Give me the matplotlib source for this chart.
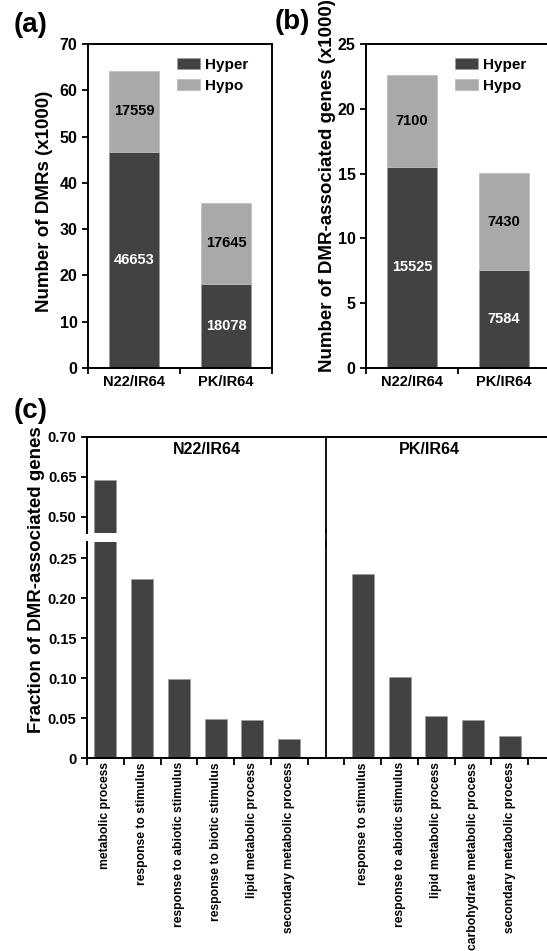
import numpy as np
from matplotlib import pyplot as plt
from matplotlib.lines import Line2D
from matplotlib.transforms import blended_transform_factory

plt.rcParams["font.family"] = ["Liberation Sans", "DejaVu Sans"]
plt.rcParams["font.weight"] = "bold"

# panels (a) and (b): counts in thousands
pairs = ["N22/IR64", "PK/IR64"]
dmr_hyper = [46.653, 18.078]
dmr_hypo = [17.559, 17.645]
gene_hyper = [15.525, 7.584]
gene_hypo = [7.100, 7.430]

# panel (c): GO fractions
n22_terms = ["metabolic process", "response to stimulus", "response to abiotic stimulus",
             "response to biotic stimulus", "lipid metabolic process",
             "secondary metabolic process"]
n22_frac = [0.640, 0.224, 0.099, 0.049, 0.047, 0.024]
pk_terms = ["response to stimulus", "response to abiotic stimulus",
            "lipid metabolic process", "carbohydrate metabolic process",
            "secondary metabolic process"]
pk_frac = [0.230, 0.101, 0.052, 0.047, 0.027]

DARK = "#424242"
LIGHT = "#a9a9a9"
W, H = 547, 951


def box(l, t, w, h):
    return [l / W, (H - t - h) / H, w / W, h / H]


def stacked(ax, hyper, hypo, ymax, step, lab_lo, lab_hi):
    x = np.arange(len(pairs))
    b1 = ax.bar(x, hyper, 0.55, color=DARK, edgecolor="#9a9a9a", linewidth=0.5, label="Hyper")
    b2 = ax.bar(x, hypo, 0.55, bottom=hyper, color=LIGHT, edgecolor="#bbbbbb",
                linewidth=0.5, label="Hypo")
    for i in x:
        ax.text(i, hyper[i] / 2, lab_lo[i], ha="center", va="center", color="white",
                fontsize=10.5, fontweight="bold")
        ax.text(i, hyper[i] + hypo[i] / 2, lab_hi[i], ha="center", va="center",
                color="black", fontsize=10.5, fontweight="bold")
    ax.set_xlim(-0.5, 1.5)
    ax.set_ylim(0, ymax)
    ax.set_yticks(np.arange(0, ymax + 1, step))
    ax.set_xticks([-0.5, 0.5, 1.5])
    ax.set_xticklabels([])
    ax.set_xticks(x, minor=True)
    ax.set_xticklabels(pairs, minor=True, fontsize=10.5, fontweight="bold")
    ax.tick_params(axis="x", which="minor", length=0, pad=5)
    ax.tick_params(axis="both", which="major", direction="out", length=4, width=1.3,
                   labelsize=11.5)
    for s in ax.spines.values():
        s.set_linewidth(1.4)
    ax.legend(handles=[b1, b2], loc="upper left", bbox_to_anchor=(0.41, 1.0),
              frameon=False, fontsize=11, handlelength=1.5, handleheight=0.8,
              handletextpad=0.3, labelspacing=0.45, borderpad=0.4)


fig = plt.figure(figsize=(W / 100, H / 100), dpi=100)

ax_a = fig.add_axes(box(88, 44, 184, 324))
stacked(ax_a, dmr_hyper, dmr_hypo, 70, 10,
        [f"{round(v * 1000)}" for v in dmr_hyper], [f"{round(v * 1000)}" for v in dmr_hypo])
ax_b = fig.add_axes(box(366, 44, 184, 324))
stacked(ax_b, gene_hyper, gene_hypo, 25, 5,
        [f"{round(v * 1000)}" for v in gene_hyper], [f"{round(v * 1000)}" for v in gene_hypo])

fig.text(45 / W, 1 - 201 / H, "Number of DMRs (x1000)", rotation=90, ha="center",
         va="center", fontsize=13.5, fontweight="bold")
fig.text(328 / W, 1 - 186 / H, "Number of DMR-associated genes (x1000)", rotation=90,
         ha="center", va="center", fontsize=13.5, fontweight="bold")

# panel (c): broken y axis
pos_n22 = np.arange(len(n22_terms))
pos_pk = np.arange(len(pk_terms)) + len(n22_terms) + 1
gap = len(n22_terms)
positions = np.concatenate([pos_n22, pos_pk])
fracs = n22_frac + pk_frac
terms = n22_terms + pk_terms


def fwd(v):
    v = np.asarray(v, dtype=float)
    return np.where(v < 0.65, 0.65 + (v - 0.65) / 3.0, v)


def inv(t):
    t = np.asarray(t, dtype=float)
    return np.where(t < 0.65, 0.65 + (t - 0.65) * 3.0, t)


ax_hi = fig.add_axes(box(87, 437, 478, 96))
ax_lo = fig.add_axes(box(87, 542, 478, 216))
for ax in (ax_hi, ax_lo):
    ax.bar(positions, fracs, 0.6, color=DARK, edgecolor="#9a9a9a", linewidth=0.5)
    ax.set_xlim(-0.5, 12.5)
    ax.axvline(gap, color="black", lw=1.3)
    ax.spines["right"].set_visible(False)
    for s in ax.spines.values():
        s.set_linewidth(1.4)
    ax.tick_params(axis="y", direction="out", length=4, width=1.3, labelsize=10.5)

ax_hi.set_yscale("function", functions=(fwd, inv))
ax_hi.set_ylim(0.44, 0.70)
ax_hi.set_yticks([0.50, 0.65, 0.70])
ax_hi.set_yticklabels(["0.50", "0.65", "0.70"])
ax_hi.spines["bottom"].set_visible(False)
ax_hi.set_xticks([])

ax_lo.set_ylim(0, 0.27)
ticks_lo = [0, 0.05, 0.10, 0.15, 0.20, 0.25]
ax_lo.set_yticks(ticks_lo)
ax_lo.set_yticklabels(["0"] + [f"{t:.2f}" for t in ticks_lo[1:]])
ax_lo.spines["top"].set_visible(False)
ax_lo.set_xticks(np.arange(-0.5, 12.5, 1.0))
ax_lo.set_xticklabels([])
ax_lo.tick_params(axis="x", which="major", direction="out", length=5, width=1.3)
ax_lo.set_xticks(positions, minor=True)
ax_lo.set_xticklabels(terms, minor=True, rotation=90, fontsize=8.7, fontweight="bold")
ax_lo.tick_params(axis="x", which="minor", length=0, pad=3)

# divider through the break
tr = blended_transform_factory(ax_lo.transData, fig.transFigure)
fig.add_artist(Line2D([gap, gap], [1 - 545 / H, 1 - 530 / H], transform=tr,
                      color="black", lw=1.3))

ax_hi.text(2.75, 0.685, "N22/IR64", ha="center", va="center", fontsize=11.5, fontweight="bold")
ax_hi.text(8.8, 0.685, "PK/IR64", ha="center", va="center", fontsize=11.5, fontweight="bold")

fig.text(37 / W, 1 - 580 / H, "Fraction of DMR-associated genes", rotation=90,
         ha="center", va="center", fontsize=13.5, fontweight="bold")

fig.text(14 / W, 1 - 25 / H, "(a)", fontsize=20, fontweight="bold", va="center")
fig.text(275 / W, 1 - 22 / H, "(b)", fontsize=20, fontweight="bold", va="center")
fig.text(14 / W, 1 - 411 / H, "(c)", fontsize=20, fontweight="bold", va="center")

fig.savefig("out.png", dpi=100)
